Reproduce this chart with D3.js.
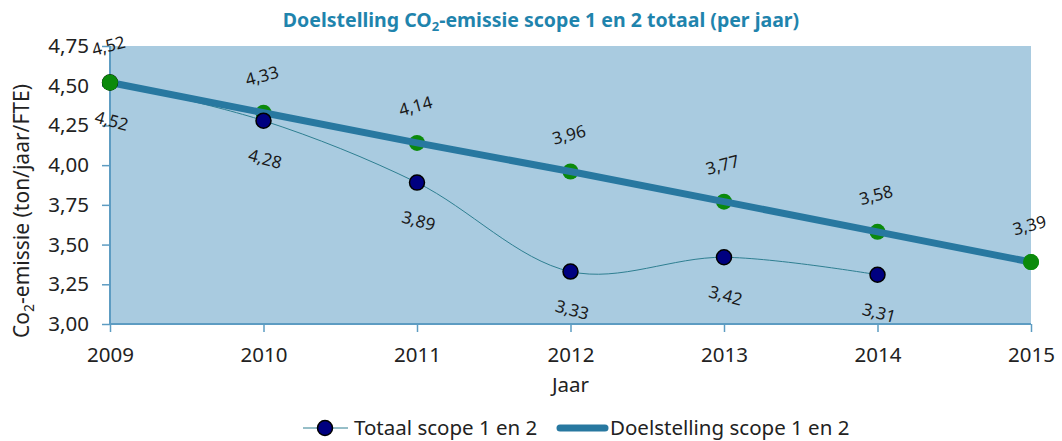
<!DOCTYPE html>
<html>
<head>
<meta charset="utf-8">
<script src="https://cdn.jsdelivr.net/npm/d3@7"></script>
<style>
  body { margin: 0; background: #fff; }
  text { font-family: "Noto Sans", "Open Sans", sans-serif; }
</style>
</head>
<body>
<script>
// Data
const years = ["2009", "2010", "2011", "2012", "2013", "2014", "2015"];
const totaal = [4.52, 4.28, 3.89, 3.33, 3.42, 3.31];
const doel = [4.52, 4.33, 4.14, 3.96, 3.77, 3.58, 3.39];
const yTicks = [3.00, 3.25, 3.50, 3.75, 4.00, 4.25, 4.50, 4.75];

const W = 1062, H = 441;
const margin = {top: 46, right: 31, bottom: 117, left: 110},
      width = W - margin.left - margin.right,
      height = H - margin.top - margin.bottom;

const fmt = v => d3.format(".2f")(v).replace(".", ",");

const svg = d3.select("body").append("svg")
    .attr("width", W)
    .attr("height", H);

// Title
const title = svg.append("text")
    .attr("x", 541).attr("y", 27)
    .attr("text-anchor", "middle")
    .style("font-size", "19.5px")
    .style("font-weight", "bold")
    .style("fill", "#1f84ad");
title.append("tspan").text("Doelstelling CO");
title.append("tspan").attr("dy", 4).style("font-size", "13px").text("2");
title.append("tspan").attr("dy", -4).text("-emissie scope 1 en 2 totaal (per jaar)");

const g = svg.append("g")
    .attr("transform", "translate(" + margin.left + "," + margin.top + ")");

const x = d3.scalePoint().domain(years).range([0, width]);
const y = d3.scaleLinear().domain([3, 4.75]).range([height, 0]);

// Plot background
g.append("rect")
    .attr("width", width).attr("height", height)
    .style("fill", "#a9cbe0");

// Axes
const axisColor = "#5d9cc2";
const yAxis = g.append("g")
    .call(d3.axisLeft(y).tickValues(yTicks).tickFormat(fmt).tickSize(8).tickPadding(13));
const xAxis = g.append("g")
    .attr("transform", "translate(0," + height + ")")
    .call(d3.axisBottom(x).tickSize(8).tickPadding(15));
[xAxis, yAxis].forEach(a => {
  a.select(".domain").style("stroke", axisColor).style("stroke-width", 2);
  a.selectAll(".tick line").style("stroke", axisColor).style("stroke-width", 1.5);
  a.selectAll(".tick text").style("font-size", "20.5px").style("fill", "#222");
});
yAxis.select(".domain").attr("d", "M0," + height + "V0");
xAxis.select(".domain").attr("d", "M0,0H" + width);

// Axis titles
svg.append("text")
    .attr("x", margin.left + width / 2).attr("y", 392)
    .attr("text-anchor", "middle")
    .style("font-size", "20.5px").style("fill", "#222")
    .text("Jaar");

const yt = svg.append("text")
    .attr("transform", "translate(29,211) rotate(-90)")
    .attr("text-anchor", "middle")
    .style("font-size", "21px").style("fill", "#222");
yt.append("tspan").text("Co");
yt.append("tspan").attr("dy", 5).style("font-size", "14px").text("2");
yt.append("tspan").attr("dy", -5).text("-emissie (ton/jaar/FTE)");

// Lines
const thinLine = d3.line()
    .x((d, i) => x(years[i]))
    .y(d => y(d))
    .curve(d3.curveCatmullRom.alpha(0.5));
const straight = d3.line()
    .x((d, i) => x(years[i]))
    .y(d => y(d));

// Green markers for doelstelling (under the line)
g.selectAll(".doel-dot")
    .data(doel)
    .enter().append("circle")
    .attr("cx", (d, i) => x(years[i]))
    .attr("cy", d => y(d))
    .attr("r", 8)
    .style("fill", "#0b8a0b");

g.append("path")
    .datum(totaal)
    .attr("d", thinLine)
    .style("fill", "none")
    .style("stroke", "#2e7f91")
    .style("stroke-width", 1);

g.append("path")
    .datum(doel)
    .attr("d", straight)
    .style("fill", "none")
    .style("stroke", "#2878a0")
    .style("stroke-width", 7)
    .style("stroke-linecap", "round");

g.selectAll(".tot-dot")
    .data(totaal)
    .enter().append("circle")
    .attr("cx", (d, i) => x(years[i]))
    .attr("cy", d => y(d))
    .attr("r", 7.5)
    .style("fill", "#000080")
    .style("stroke", "#000")
    .style("stroke-width", 1.5);

// Redraw first and last green markers over line ends
[0, doel.length - 1].forEach(i => {
  g.append("circle")
      .attr("cx", x(years[i])).attr("cy", y(doel[i]))
      .attr("r", 8).style("fill", "#0b8a0b");
});

// Data labels
g.selectAll(".doel-lbl")
    .data(doel)
    .enter().append("text")
    .attr("transform", (d, i) => "translate(" + x(years[i]) + "," + (y(d) - 31) + ") rotate(-15)")
    .attr("text-anchor", "middle")
    .style("font-size", "17px").style("fill", "#1a1a1a")
    .text(fmt);

g.selectAll(".tot-lbl")
    .data(totaal)
    .enter().append("text")
    .attr("transform", (d, i) => "translate(" + x(years[i]) + "," + (y(d) + 44) + ") rotate(15)")
    .attr("text-anchor", "middle")
    .style("font-size", "17px").style("fill", "#1a1a1a")
    .text(fmt);

// Legend
const leg = svg.append("g").attr("transform", "translate(0,428)");
leg.append("line").attr("x1", 303).attr("x2", 348).attr("y1", 0).attr("y2", 0)
    .style("stroke", "#2e7f91").style("stroke-width", 1);
leg.append("circle").attr("cx", 325).attr("cy", 0).attr("r", 7.5)
    .style("fill", "#000080").style("stroke", "#000").style("stroke-width", 1.5);
leg.append("text").attr("x", 354).attr("y", 7)
    .style("font-size", "20.5px").style("fill", "#222")
    .text("Totaal scope 1 en 2");
leg.append("line").attr("x1", 560).attr("x2", 605).attr("y1", 0).attr("y2", 0)
    .style("stroke", "#2878a0").style("stroke-width", 7).style("stroke-linecap", "round");
leg.append("text").attr("x", 610).attr("y", 7)
    .style("font-size", "20.5px").style("fill", "#222")
    .text("Doelstelling scope 1 en 2");
</script>
</body>
</html>
